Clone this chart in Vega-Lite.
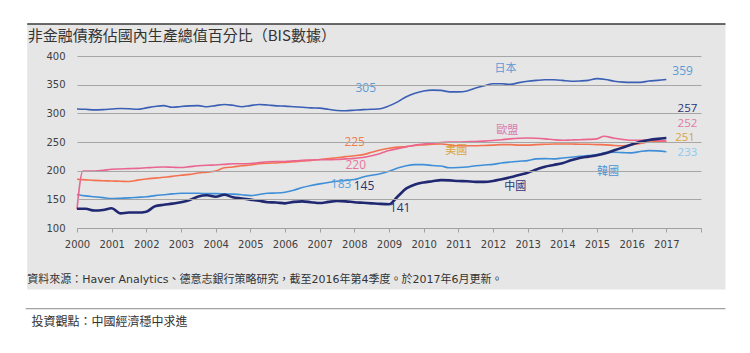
{
  "$schema": "https://vega.github.io/schema/vega-lite/v6.json",
  "width": 624,
  "height": 172,
  "autosize": {"type": "none"},
  "padding": {"left": 77, "top": 56, "right": 49, "bottom": 125},
  "background": "#ffffff",
  "config": {"view": {"stroke": null}},
  "datasets": {
    "debt": [
      {"s":"日本","t":2000,"v":307.5},{"s":"日本","t":2000.25,"v":307},{"s":"日本","t":2000.5,"v":306},{"s":"日本","t":2000.75,"v":306.5},
      {"s":"日本","t":2001,"v":307.5},{"s":"日本","t":2001.25,"v":308.5},{"s":"日本","t":2001.5,"v":308},{"s":"日本","t":2001.75,"v":307},
      {"s":"日本","t":2002,"v":309.5},{"s":"日本","t":2002.25,"v":312},{"s":"日本","t":2002.5,"v":313.5},{"s":"日本","t":2002.75,"v":310.5},
      {"s":"日本","t":2003,"v":312},{"s":"日本","t":2003.25,"v":313},{"s":"日本","t":2003.5,"v":313.5},{"s":"日本","t":2003.75,"v":311.5},
      {"s":"日本","t":2004,"v":313.5},{"s":"日本","t":2004.25,"v":315.5},{"s":"日本","t":2004.5,"v":314},{"s":"日本","t":2004.75,"v":311.5},
      {"s":"日本","t":2005,"v":313.5},{"s":"日本","t":2005.25,"v":315.5},{"s":"日本","t":2005.5,"v":314.5},{"s":"日本","t":2005.75,"v":313},
      {"s":"日本","t":2006,"v":312.5},{"s":"日本","t":2006.25,"v":311.5},{"s":"日本","t":2006.5,"v":310.5},{"s":"日本","t":2006.75,"v":309.5},
      {"s":"日本","t":2007,"v":309},{"s":"日本","t":2007.25,"v":307},{"s":"日本","t":2007.5,"v":305},{"s":"日本","t":2007.75,"v":304.5},
      {"s":"日本","t":2008,"v":305.5},{"s":"日本","t":2008.25,"v":306.5},{"s":"日本","t":2008.5,"v":307},{"s":"日本","t":2008.75,"v":308},
      {"s":"日本","t":2009,"v":313},{"s":"日本","t":2009.25,"v":320},{"s":"日本","t":2009.5,"v":329},{"s":"日本","t":2009.75,"v":335},
      {"s":"日本","t":2010,"v":339},{"s":"日本","t":2010.25,"v":340.5},{"s":"日本","t":2010.5,"v":340},{"s":"日本","t":2010.75,"v":337.5},
      {"s":"日本","t":2011,"v":337.5},{"s":"日本","t":2011.25,"v":339},{"s":"日本","t":2011.5,"v":344},{"s":"日本","t":2011.75,"v":348},
      {"s":"日本","t":2012,"v":351.5},{"s":"日本","t":2012.25,"v":351.5},{"s":"日本","t":2012.5,"v":350.5},{"s":"日本","t":2012.75,"v":353.5},
      {"s":"日本","t":2013,"v":356},{"s":"日本","t":2013.25,"v":357.5},{"s":"日本","t":2013.5,"v":358.5},{"s":"日本","t":2013.75,"v":358.5},
      {"s":"日本","t":2014,"v":357.5},{"s":"日本","t":2014.25,"v":356},{"s":"日本","t":2014.5,"v":356.5},{"s":"日本","t":2014.75,"v":357.5},
      {"s":"日本","t":2015,"v":360.5},{"s":"日本","t":2015.25,"v":359},{"s":"日本","t":2015.5,"v":356},{"s":"日本","t":2015.75,"v":354.5},
      {"s":"日本","t":2016,"v":354},{"s":"日本","t":2016.25,"v":354},{"s":"日本","t":2016.5,"v":356.5},{"s":"日本","t":2016.75,"v":357.5},
      {"s":"日本","t":2017,"v":359},

      {"s":"韓國","t":2000,"v":158.5},{"s":"韓國","t":2000.25,"v":156},{"s":"韓國","t":2000.5,"v":154.5},{"s":"韓國","t":2000.75,"v":153},
      {"s":"韓國","t":2001,"v":151.5},{"s":"韓國","t":2001.25,"v":152},{"s":"韓國","t":2001.5,"v":152.5},{"s":"韓國","t":2001.75,"v":153.5},
      {"s":"韓國","t":2002,"v":154.5},{"s":"韓國","t":2002.25,"v":156.5},{"s":"韓國","t":2002.5,"v":158},{"s":"韓國","t":2002.75,"v":159.5},
      {"s":"韓國","t":2003,"v":160.5},{"s":"韓國","t":2003.25,"v":160.5},{"s":"韓國","t":2003.5,"v":160.5},{"s":"韓國","t":2003.75,"v":160},
      {"s":"韓國","t":2004,"v":160},{"s":"韓國","t":2004.25,"v":159.5},{"s":"韓國","t":2004.5,"v":159},{"s":"韓國","t":2004.75,"v":158},
      {"s":"韓國","t":2005,"v":156.5},{"s":"韓國","t":2005.25,"v":158.5},{"s":"韓國","t":2005.5,"v":160.5},{"s":"韓國","t":2005.75,"v":161},
      {"s":"韓國","t":2006,"v":162.5},{"s":"韓國","t":2006.25,"v":166},{"s":"韓國","t":2006.5,"v":170.5},{"s":"韓國","t":2006.75,"v":174},
      {"s":"韓國","t":2007,"v":177},{"s":"韓國","t":2007.25,"v":179.5},{"s":"韓國","t":2007.5,"v":181.5},{"s":"韓國","t":2007.75,"v":183},
      {"s":"韓國","t":2008,"v":184.5},{"s":"韓國","t":2008.25,"v":189},{"s":"韓國","t":2008.5,"v":192},{"s":"韓國","t":2008.75,"v":194.5},
      {"s":"韓國","t":2009,"v":199},{"s":"韓國","t":2009.25,"v":204.5},{"s":"韓國","t":2009.5,"v":208.5},{"s":"韓國","t":2009.75,"v":210.5},
      {"s":"韓國","t":2010,"v":210.5},{"s":"韓國","t":2010.25,"v":209},{"s":"韓國","t":2010.5,"v":208},{"s":"韓國","t":2010.75,"v":205},
      {"s":"韓國","t":2011,"v":205.5},{"s":"韓國","t":2011.25,"v":206.5},{"s":"韓國","t":2011.5,"v":208.5},{"s":"韓國","t":2011.75,"v":210},
      {"s":"韓國","t":2012,"v":211},{"s":"韓國","t":2012.25,"v":213.5},{"s":"韓國","t":2012.5,"v":215},{"s":"韓國","t":2012.75,"v":216.5},
      {"s":"韓國","t":2013,"v":217.5},{"s":"韓國","t":2013.25,"v":220.5},{"s":"韓國","t":2013.5,"v":221},{"s":"韓國","t":2013.75,"v":220.5},
      {"s":"韓國","t":2014,"v":222},{"s":"韓國","t":2014.25,"v":223.5},{"s":"韓國","t":2014.5,"v":225},{"s":"韓國","t":2014.75,"v":226.5},
      {"s":"韓國","t":2015,"v":228},{"s":"韓國","t":2015.25,"v":231.5},{"s":"韓國","t":2015.5,"v":232},{"s":"韓國","t":2015.75,"v":231.5},
      {"s":"韓國","t":2016,"v":231},{"s":"韓國","t":2016.25,"v":233.5},{"s":"韓國","t":2016.5,"v":235},{"s":"韓國","t":2016.75,"v":234.5},
      {"s":"韓國","t":2017,"v":233},

      {"s":"美國","t":2000,"v":185},{"s":"美國","t":2000.25,"v":184},{"s":"美國","t":2000.5,"v":183},{"s":"美國","t":2000.75,"v":182.5},
      {"s":"美國","t":2001,"v":182},{"s":"美國","t":2001.25,"v":181.5},{"s":"美國","t":2001.5,"v":181},{"s":"美國","t":2001.75,"v":183.5},
      {"s":"美國","t":2002,"v":185.5},{"s":"美國","t":2002.25,"v":187},{"s":"美國","t":2002.5,"v":188.5},{"s":"美國","t":2002.75,"v":190},
      {"s":"美國","t":2003,"v":192},{"s":"美國","t":2003.25,"v":193.5},{"s":"美國","t":2003.5,"v":196},{"s":"美國","t":2003.75,"v":197.5},
      {"s":"美國","t":2004,"v":199.5},{"s":"美國","t":2004.25,"v":205},{"s":"美國","t":2004.5,"v":206.5},{"s":"美國","t":2004.75,"v":208.5},
      {"s":"美國","t":2005,"v":210},{"s":"美國","t":2005.25,"v":212},{"s":"美國","t":2005.5,"v":213},{"s":"美國","t":2005.75,"v":213.5},
      {"s":"美國","t":2006,"v":214.5},{"s":"美國","t":2006.25,"v":215.5},{"s":"美國","t":2006.5,"v":217},{"s":"美國","t":2006.75,"v":218},
      {"s":"美國","t":2007,"v":219.5},{"s":"美國","t":2007.25,"v":221},{"s":"美國","t":2007.5,"v":222.5},{"s":"美國","t":2007.75,"v":224.5},
      {"s":"美國","t":2008,"v":226},{"s":"美國","t":2008.25,"v":228},{"s":"美國","t":2008.5,"v":232},{"s":"美國","t":2008.75,"v":236},
      {"s":"美國","t":2009,"v":239},{"s":"美國","t":2009.25,"v":241},{"s":"美國","t":2009.5,"v":242},{"s":"美國","t":2009.75,"v":244},
      {"s":"美國","t":2010,"v":245},{"s":"美國","t":2010.25,"v":246},{"s":"美國","t":2010.5,"v":246.5},{"s":"美國","t":2010.75,"v":245},
      {"s":"美國","t":2011,"v":243.5},{"s":"美國","t":2011.25,"v":243.5},{"s":"美國","t":2011.5,"v":243.5},{"s":"美國","t":2011.75,"v":244},
      {"s":"美國","t":2012,"v":244.5},{"s":"美國","t":2012.25,"v":245.5},{"s":"美國","t":2012.5,"v":245.5},{"s":"美國","t":2012.75,"v":244.5},
      {"s":"美國","t":2013,"v":244.5},{"s":"美國","t":2013.25,"v":245.5},{"s":"美國","t":2013.5,"v":246},{"s":"美國","t":2013.75,"v":246.5},
      {"s":"美國","t":2014,"v":246.5},{"s":"美國","t":2014.25,"v":246.5},{"s":"美國","t":2014.5,"v":246},{"s":"美國","t":2014.75,"v":246},
      {"s":"美國","t":2015,"v":245.5},{"s":"美國","t":2015.25,"v":245},{"s":"美國","t":2015.5,"v":244},{"s":"美國","t":2015.75,"v":243.5},
      {"s":"美國","t":2016,"v":245},{"s":"美國","t":2016.25,"v":247.5},{"s":"美國","t":2016.5,"v":250},{"s":"美國","t":2016.75,"v":251},
      {"s":"美國","t":2017,"v":251},

      {"s":"歐盟","t":2000,"v":133},{"s":"歐盟","t":2000.17,"v":199.5},{"s":"歐盟","t":2000.5,"v":199.5},{"s":"歐盟","t":2000.75,"v":200.5},
      {"s":"歐盟","t":2001,"v":202.5},{"s":"歐盟","t":2001.25,"v":203},{"s":"歐盟","t":2001.5,"v":203.5},{"s":"歐盟","t":2001.75,"v":204},
      {"s":"歐盟","t":2002,"v":205},{"s":"歐盟","t":2002.25,"v":206},{"s":"歐盟","t":2002.5,"v":206.5},{"s":"歐盟","t":2002.75,"v":206},
      {"s":"歐盟","t":2003,"v":205.5},{"s":"歐盟","t":2003.25,"v":207},{"s":"歐盟","t":2003.5,"v":208.5},{"s":"歐盟","t":2003.75,"v":209.5},
      {"s":"歐盟","t":2004,"v":210},{"s":"歐盟","t":2004.25,"v":211},{"s":"歐盟","t":2004.5,"v":212},{"s":"歐盟","t":2004.75,"v":212},
      {"s":"歐盟","t":2005,"v":212.5},{"s":"歐盟","t":2005.25,"v":214},{"s":"歐盟","t":2005.5,"v":215.5},{"s":"歐盟","t":2005.75,"v":216},
      {"s":"歐盟","t":2006,"v":216},{"s":"歐盟","t":2006.25,"v":217},{"s":"歐盟","t":2006.5,"v":218},{"s":"歐盟","t":2006.75,"v":218.5},
      {"s":"歐盟","t":2007,"v":219},{"s":"歐盟","t":2007.25,"v":219},{"s":"歐盟","t":2007.5,"v":219.5},{"s":"歐盟","t":2007.75,"v":220.5},
      {"s":"歐盟","t":2008,"v":221.5},{"s":"歐盟","t":2008.25,"v":223},{"s":"歐盟","t":2008.5,"v":226},{"s":"歐盟","t":2008.75,"v":230},
      {"s":"歐盟","t":2009,"v":235},{"s":"歐盟","t":2009.25,"v":238.5},{"s":"歐盟","t":2009.5,"v":241.5},{"s":"歐盟","t":2009.75,"v":244.5},
      {"s":"歐盟","t":2010,"v":246.5},{"s":"歐盟","t":2010.25,"v":248},{"s":"歐盟","t":2010.5,"v":249},{"s":"歐盟","t":2010.75,"v":250},
      {"s":"歐盟","t":2011,"v":250},{"s":"歐盟","t":2011.25,"v":250.5},{"s":"歐盟","t":2011.5,"v":251},{"s":"歐盟","t":2011.75,"v":251.5},
      {"s":"歐盟","t":2012,"v":252.5},{"s":"歐盟","t":2012.25,"v":254},{"s":"歐盟","t":2012.5,"v":255.5},{"s":"歐盟","t":2012.75,"v":256.5},
      {"s":"歐盟","t":2013,"v":257},{"s":"歐盟","t":2013.25,"v":256.5},{"s":"歐盟","t":2013.5,"v":255.5},{"s":"歐盟","t":2013.75,"v":254},
      {"s":"歐盟","t":2014,"v":253},{"s":"歐盟","t":2014.25,"v":253.5},{"s":"歐盟","t":2014.5,"v":254},{"s":"歐盟","t":2014.75,"v":254.5},
      {"s":"歐盟","t":2015,"v":255.5},{"s":"歐盟","t":2015.2,"v":260},{"s":"歐盟","t":2015.5,"v":256.5},{"s":"歐盟","t":2015.75,"v":254.5},
      {"s":"歐盟","t":2016,"v":253},{"s":"歐盟","t":2016.25,"v":253},{"s":"歐盟","t":2016.5,"v":253.5},{"s":"歐盟","t":2016.75,"v":252.5},
      {"s":"歐盟","t":2017,"v":252},

      {"s":"中國","t":2000,"v":133.5},{"s":"中國","t":2000.25,"v":133.5},{"s":"中國","t":2000.5,"v":130.5},{"s":"中國","t":2000.75,"v":131.5},
      {"s":"中國","t":2001,"v":134.5},{"s":"中國","t":2001.25,"v":125.5},{"s":"中國","t":2001.5,"v":127},{"s":"中國","t":2001.75,"v":127},
      {"s":"中國","t":2002,"v":128.5},{"s":"中國","t":2002.25,"v":138},{"s":"中國","t":2002.5,"v":140.5},{"s":"中國","t":2002.75,"v":142.5},
      {"s":"中國","t":2003,"v":145},{"s":"中國","t":2003.25,"v":149},{"s":"中國","t":2003.5,"v":155},{"s":"中國","t":2003.75,"v":157},
      {"s":"中國","t":2004,"v":154.5},{"s":"中國","t":2004.25,"v":158},{"s":"中國","t":2004.5,"v":153.5},{"s":"中國","t":2004.75,"v":151.5},
      {"s":"中國","t":2005,"v":149.5},{"s":"中國","t":2005.25,"v":147.5},{"s":"中國","t":2005.5,"v":145},{"s":"中國","t":2005.75,"v":144.5},
      {"s":"中國","t":2006,"v":143},{"s":"中國","t":2006.25,"v":145.5},{"s":"中國","t":2006.5,"v":146.5},{"s":"中國","t":2006.75,"v":145},
      {"s":"中國","t":2007,"v":143.5},{"s":"中國","t":2007.25,"v":145.5},{"s":"中國","t":2007.5,"v":147},{"s":"中國","t":2007.75,"v":146.5},
      {"s":"中國","t":2008,"v":145},{"s":"中國","t":2008.25,"v":144},{"s":"中國","t":2008.5,"v":143},{"s":"中國","t":2008.75,"v":142},
      {"s":"中國","t":2009,"v":141.5},{"s":"中國","t":2009.25,"v":155},{"s":"中國","t":2009.5,"v":169},{"s":"中國","t":2009.75,"v":176},
      {"s":"中國","t":2010,"v":179.5},{"s":"中國","t":2010.25,"v":181.5},{"s":"中國","t":2010.5,"v":183.5},{"s":"中國","t":2010.75,"v":183},
      {"s":"中國","t":2011,"v":182},{"s":"中國","t":2011.25,"v":181.5},{"s":"中國","t":2011.5,"v":180.5},{"s":"中國","t":2011.75,"v":180.5},
      {"s":"中國","t":2012,"v":182},{"s":"中國","t":2012.25,"v":185},{"s":"中國","t":2012.5,"v":188.5},{"s":"中國","t":2012.75,"v":192.5},
      {"s":"中國","t":2013,"v":196.5},{"s":"中國","t":2013.25,"v":202},{"s":"中國","t":2013.5,"v":207},{"s":"中國","t":2013.75,"v":210},
      {"s":"中國","t":2014,"v":213},{"s":"中國","t":2014.25,"v":218},{"s":"中國","t":2014.5,"v":222},{"s":"中國","t":2014.75,"v":224.5},
      {"s":"中國","t":2015,"v":227},{"s":"中國","t":2015.25,"v":230.5},{"s":"中國","t":2015.5,"v":235.5},{"s":"中國","t":2015.75,"v":240.5},
      {"s":"中國","t":2016,"v":245.5},{"s":"中國","t":2016.25,"v":250.5},{"s":"中國","t":2016.5,"v":253.5},{"s":"中國","t":2016.75,"v":255.5},
      {"s":"中國","t":2017,"v":257}
    ],
    "one": [{}]
  },
  "layer": [
    {
      "data": {"name": "one"},
      "mark": {"type": "rect", "color": "#e6e6e6", "clip": false},
      "encoding": {
        "x": {"datum": 1998.564, "type": "quantitative", "axis": {"values": [2000,2001,2002,2003,2004,2005,2006,2007,2008,2009,2010,2011,2012,2013,2014,2015,2016,2017,2018], "format": "d", "labelExpr": "datum.value == 2018 ? '' : datum.label", "labelOverlap": false, "labelFlush": false, "grid": false, "title": null, "zindex": 1, "domainColor": "#a0a0a0", "tickColor": "#a0a0a0", "tickSize": 4, "labelPadding": 7, "labelFont": "DejaVu Sans", "labelFontSize": 10, "labelColor": "#404040"}},
        "x2": {"datum": 2018.706},
        "y": {"datum": 455.9, "type": "quantitative", "axis": {"values": [100,150,200,250,300,350,400], "labelOverlap": false, "grid": true, "gridColor": "#a6a6a6", "gridWidth": 1, "domain": false, "ticks": false, "title": null, "zindex": 1, "labelPadding": 12, "labelFont": "DejaVu Sans", "labelFontSize": 10, "labelColor": "#404040"}},
        "y2": {"datum": -7.05}
      }
    },
    {
      "data": {"name": "one"},
      "mark": {"type": "rule", "color": "#3a3a3a", "strokeWidth": 1.5, "clip": false},
      "encoding": {
        "x": {"datum": 1998.564, "type": "quantitative", "axis": {"values": [2000,2001,2002,2003,2004,2005,2006,2007,2008,2009,2010,2011,2012,2013,2014,2015,2016,2017,2018], "format": "d", "labelExpr": "datum.value == 2018 ? '' : datum.label", "labelOverlap": false, "labelFlush": false, "grid": false, "title": null, "zindex": 1, "domainColor": "#a0a0a0", "tickColor": "#a0a0a0", "tickSize": 4, "labelPadding": 7, "labelFont": "DejaVu Sans", "labelFontSize": 10, "labelColor": "#404040"}},
        "x2": {"datum": 2018.706},
        "y": {"datum": 455.9, "type": "quantitative", "axis": {"values": [100,150,200,250,300,350,400], "labelOverlap": false, "grid": true, "gridColor": "#a6a6a6", "gridWidth": 1, "domain": false, "ticks": false, "title": null, "zindex": 1, "labelPadding": 12, "labelFont": "DejaVu Sans", "labelFontSize": 10, "labelColor": "#404040"}}
      }
    },
    {
      "data": {"name": "one"},
      "mark": {"type": "rule", "color": "#8a8a8a", "strokeWidth": 1, "clip": false},
      "encoding": {
        "x": {"datum": 1998.52, "type": "quantitative", "axis": {"values": [2000,2001,2002,2003,2004,2005,2006,2007,2008,2009,2010,2011,2012,2013,2014,2015,2016,2017,2018], "format": "d", "labelExpr": "datum.value == 2018 ? '' : datum.label", "labelOverlap": false, "labelFlush": false, "grid": false, "title": null, "zindex": 1, "domainColor": "#a0a0a0", "tickColor": "#a0a0a0", "tickSize": 4, "labelPadding": 7, "labelFont": "DejaVu Sans", "labelFontSize": 10, "labelColor": "#404040"}},
        "x2": {"datum": 2018.706},
        "y": {"datum": -40.8, "type": "quantitative", "axis": {"values": [100,150,200,250,300,350,400], "labelOverlap": false, "grid": true, "gridColor": "#a6a6a6", "gridWidth": 1, "domain": false, "ticks": false, "title": null, "zindex": 1, "labelPadding": 12, "labelFont": "DejaVu Sans", "labelFontSize": 10, "labelColor": "#404040"}}
      }
    },
    {
      "data": {"name": "debt"},
      "transform": [{"filter": "datum.s !== '中國'"}],
      "mark": {"type": "line", "strokeWidth": 1.6, "interpolate": "monotone"},
      "encoding": {
        "x": {"field": "t", "type": "quantitative", "scale": {"domain": [2000, 2018], "nice": false, "zero": false},
          "axis": {"values": [2000,2001,2002,2003,2004,2005,2006,2007,2008,2009,2010,2011,2012,2013,2014,2015,2016,2017,2018], "format": "d", "labelExpr": "datum.value == 2018 ? '' : datum.label", "labelOverlap": false, "labelFlush": false, "grid": false, "title": null, "zindex": 1, "domainColor": "#a0a0a0", "tickColor": "#a0a0a0", "tickSize": 4, "labelPadding": 7, "labelFont": "DejaVu Sans", "labelFontSize": 10, "labelColor": "#404040"}},
        "y": {"field": "v", "type": "quantitative", "scale": {"domain": [100, 400], "nice": false, "zero": false},
          "axis": {"values": [100,150,200,250,300,350,400], "labelOverlap": false, "grid": true, "gridColor": "#a6a6a6", "gridWidth": 1, "domain": false, "ticks": false, "title": null, "zindex": 1, "labelPadding": 12, "labelFont": "DejaVu Sans", "labelFontSize": 10, "labelColor": "#404040"}},
        "color": {"field": "s", "type": "nominal", "legend": null,
          "scale": {"domain": ["日本","韓國","美國","歐盟"], "range": ["#3b5fb5","#3f8fd8","#f4724f","#ea6690"]}},
        "order": {"field": "t"}
      }
    },
    {
      "data": {"name": "debt"},
      "transform": [{"filter": "datum.s === '中國'"}],
      "mark": {"type": "line", "strokeWidth": 2.6, "color": "#1f2870", "interpolate": "monotone"},
      "encoding": {
        "x": {"field": "t", "type": "quantitative", "axis": {"values": [2000,2001,2002,2003,2004,2005,2006,2007,2008,2009,2010,2011,2012,2013,2014,2015,2016,2017,2018], "format": "d", "labelExpr": "datum.value == 2018 ? '' : datum.label", "labelOverlap": false, "labelFlush": false, "grid": false, "title": null, "zindex": 1, "domainColor": "#a0a0a0", "tickColor": "#a0a0a0", "tickSize": 4, "labelPadding": 7, "labelFont": "DejaVu Sans", "labelFontSize": 10, "labelColor": "#404040"}},
        "y": {"field": "v", "type": "quantitative", "axis": {"values": [100,150,200,250,300,350,400], "labelOverlap": false, "grid": true, "gridColor": "#a6a6a6", "gridWidth": 1, "domain": false, "ticks": false, "title": null, "zindex": 1, "labelPadding": 12, "labelFont": "DejaVu Sans", "labelFontSize": 10, "labelColor": "#404040"}},
        "order": {"field": "t"}
      }
    },
    {
      "data": {"name": "one"},
      "mark": {"type": "text", "align": "left", "baseline": "middle", "font": "Noto Sans CJK TC", "fontSize": 15, "color": "#333333", "clip": false},
      "encoding": {
        "x": {"datum": 1998.578, "type": "quantitative", "axis": {"values": [2000,2001,2002,2003,2004,2005,2006,2007,2008,2009,2010,2011,2012,2013,2014,2015,2016,2017,2018], "format": "d", "labelExpr": "datum.value == 2018 ? '' : datum.label", "labelOverlap": false, "labelFlush": false, "grid": false, "title": null, "zindex": 1, "domainColor": "#a0a0a0", "tickColor": "#a0a0a0", "tickSize": 4, "labelPadding": 7, "labelFont": "DejaVu Sans", "labelFontSize": 10, "labelColor": "#404040"}},
        "y": {"datum": 434.5, "type": "quantitative", "axis": {"values": [100,150,200,250,300,350,400], "labelOverlap": false, "grid": true, "gridColor": "#a6a6a6", "gridWidth": 1, "domain": false, "ticks": false, "title": null, "zindex": 1, "labelPadding": 12, "labelFont": "DejaVu Sans", "labelFontSize": 10, "labelColor": "#404040"}},
        "text": {"value": "非金融債務佔國內生產總值百分比（BIS數據）"}
      }
    },
    {
      "data": {"name": "one"},
      "mark": {"type": "text", "align": "left", "baseline": "middle", "font": "DejaVu Sans, Noto Sans CJK TC", "fontSize": 11, "color": "#333333", "clip": false},
      "encoding": {
        "x": {"datum": 1998.564, "type": "quantitative", "axis": {"values": [2000,2001,2002,2003,2004,2005,2006,2007,2008,2009,2010,2011,2012,2013,2014,2015,2016,2017,2018], "format": "d", "labelExpr": "datum.value == 2018 ? '' : datum.label", "labelOverlap": false, "labelFlush": false, "grid": false, "title": null, "zindex": 1, "domainColor": "#a0a0a0", "tickColor": "#a0a0a0", "tickSize": 4, "labelPadding": 7, "labelFont": "DejaVu Sans", "labelFontSize": 10, "labelColor": "#404040"}},
        "y": {"datum": 8.5, "type": "quantitative", "axis": {"values": [100,150,200,250,300,350,400], "labelOverlap": false, "grid": true, "gridColor": "#a6a6a6", "gridWidth": 1, "domain": false, "ticks": false, "title": null, "zindex": 1, "labelPadding": 12, "labelFont": "DejaVu Sans", "labelFontSize": 10, "labelColor": "#404040"}},
        "text": {"value": "資料來源：Haver Analytics、德意志銀行策略研究，截至2016年第4季度。於2017年6月更新。"}
      }
    },
    {
      "data": {"name": "one"},
      "mark": {"type": "text", "align": "left", "baseline": "middle", "font": "Noto Sans CJK TC", "fontSize": 12, "color": "#333333", "clip": false},
      "encoding": {
        "x": {"datum": 1998.685, "type": "quantitative", "axis": {"values": [2000,2001,2002,2003,2004,2005,2006,2007,2008,2009,2010,2011,2012,2013,2014,2015,2016,2017,2018], "format": "d", "labelExpr": "datum.value == 2018 ? '' : datum.label", "labelOverlap": false, "labelFlush": false, "grid": false, "title": null, "zindex": 1, "domainColor": "#a0a0a0", "tickColor": "#a0a0a0", "tickSize": 4, "labelPadding": 7, "labelFont": "DejaVu Sans", "labelFontSize": 10, "labelColor": "#404040"}},
        "y": {"datum": -64.5, "type": "quantitative", "axis": {"values": [100,150,200,250,300,350,400], "labelOverlap": false, "grid": true, "gridColor": "#a6a6a6", "gridWidth": 1, "domain": false, "ticks": false, "title": null, "zindex": 1, "labelPadding": 12, "labelFont": "DejaVu Sans", "labelFontSize": 10, "labelColor": "#404040"}},
        "text": {"value": "投資觀點：中國經濟穩中求進"}
      }
    },
    {
      "data": {"name": "one"},
      "layer": [
        {"mark": {"type": "text", "font": "Open Sans", "fontSize": 12, "baseline": "middle", "color": "#5b9bd5"},
         "encoding": {"x": {"datum": 2008.33}, "y": {"datum": 344.1}, "text": {"value": "305"}}},
        {"mark": {"type": "text", "font": "Noto Sans CJK TC", "fontSize": 11, "baseline": "middle", "color": "#5b9bd5"},
         "encoding": {"x": {"datum": 2012.36}, "y": {"datum": 377.3}, "text": {"value": "日本"}}},
        {"mark": {"type": "text", "font": "Open Sans", "fontSize": 12, "baseline": "middle", "color": "#5b9bd5"},
         "encoding": {"x": {"datum": 2017.47}, "y": {"datum": 373.8}, "text": {"value": "359"}}},
        {"mark": {"type": "text", "font": "Open Sans", "fontSize": 11.5, "baseline": "middle", "color": "#2b3274"},
         "encoding": {"x": {"datum": 2017.61}, "y": {"datum": 307.5}, "text": {"value": "257"}}},
        {"mark": {"type": "text", "font": "Open Sans", "fontSize": 11.5, "baseline": "middle", "color": "#e07aa8"},
         "encoding": {"x": {"datum": 2017.61}, "y": {"datum": 281}, "text": {"value": "252"}}},
        {"mark": {"type": "text", "font": "Open Sans", "fontSize": 11.5, "baseline": "middle", "color": "#d9a443"},
         "encoding": {"x": {"datum": 2017.54}, "y": {"datum": 257.5}, "text": {"value": "251"}}},
        {"mark": {"type": "text", "font": "Open Sans", "fontSize": 11.5, "baseline": "middle", "color": "#8ccaf0"},
         "encoding": {"x": {"datum": 2017.61}, "y": {"datum": 231.3}, "text": {"value": "233"}}},
        {"mark": {"type": "text", "font": "Noto Sans CJK TC", "fontSize": 11, "baseline": "middle", "color": "#d77bb0"},
         "encoding": {"x": {"datum": 2012.41}, "y": {"datum": 269.5}, "text": {"value": "歐盟"}}},
        {"mark": {"type": "text", "font": "Noto Sans CJK TC", "fontSize": 11, "baseline": "middle", "color": "#d9a443"},
         "encoding": {"x": {"datum": 2010.94}, "y": {"datum": 234.0}, "text": {"value": "美國"}}},
        {"mark": {"type": "text", "font": "Noto Sans CJK TC", "fontSize": 11, "baseline": "middle", "color": "#4a94d6"},
         "encoding": {"x": {"datum": 2015.32}, "y": {"datum": 197.9}, "text": {"value": "韓國"}}},
        {"mark": {"type": "text", "font": "Noto Sans CJK TC", "fontSize": 11, "baseline": "middle", "color": "#2b3274"},
         "encoding": {"x": {"datum": 2012.64}, "y": {"datum": 171.7}, "text": {"value": "中國"}}},
        {"mark": {"type": "text", "font": "Open Sans", "fontSize": 12, "baseline": "middle", "color": "#2b3274"},
         "encoding": {"x": {"datum": 2009.32}, "y": {"datum": 135.0}, "text": {"value": "141"}}},
        {"mark": {"type": "text", "font": "Open Sans", "fontSize": 12, "baseline": "middle", "color": "#f0804a"},
         "encoding": {"x": {"datum": 2008.01}, "y": {"datum": 250.3}, "text": {"value": "225"}}},
        {"mark": {"type": "text", "font": "Open Sans", "fontSize": 12, "baseline": "middle", "color": "#e8749e"},
         "encoding": {"x": {"datum": 2008.04}, "y": {"datum": 209.6}, "text": {"value": "220"}}},
        {"mark": {"type": "text", "font": "Open Sans", "fontSize": 12, "baseline": "middle", "color": "#5aa2dc"},
         "encoding": {"x": {"datum": 2007.62}, "y": {"datum": 175.9}, "text": {"value": "183"}}},
        {"mark": {"type": "text", "font": "Open Sans", "fontSize": 12, "baseline": "middle", "color": "#2b3274"},
         "encoding": {"x": {"datum": 2008.28}, "y": {"datum": 172.9}, "text": {"value": "145"}}}
      ],
      "encoding": {
        "x": {"type": "quantitative", "axis": {"values": [2000,2001,2002,2003,2004,2005,2006,2007,2008,2009,2010,2011,2012,2013,2014,2015,2016,2017,2018], "format": "d", "labelExpr": "datum.value == 2018 ? '' : datum.label", "labelOverlap": false, "labelFlush": false, "grid": false, "title": null, "zindex": 1, "domainColor": "#a0a0a0", "tickColor": "#a0a0a0", "tickSize": 4, "labelPadding": 7, "labelFont": "DejaVu Sans", "labelFontSize": 10, "labelColor": "#404040"}},
        "y": {"type": "quantitative", "axis": {"values": [100,150,200,250,300,350,400], "labelOverlap": false, "grid": true, "gridColor": "#a6a6a6", "gridWidth": 1, "domain": false, "ticks": false, "title": null, "zindex": 1, "labelPadding": 12, "labelFont": "DejaVu Sans", "labelFontSize": 10, "labelColor": "#404040"}}
      }
    }
  ]
}
